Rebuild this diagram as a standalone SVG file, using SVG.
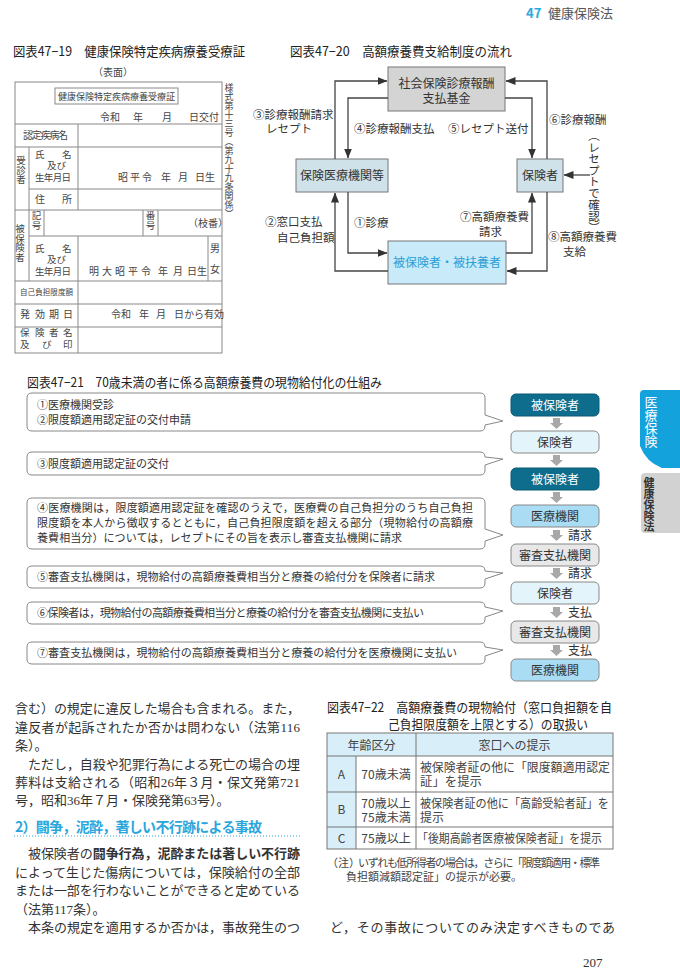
<svg xmlns="http://www.w3.org/2000/svg" width="680" height="977" viewBox="0 0 680 977">
<style>
text{font-family:"Noto Sans CJK JP","Liberation Sans",sans-serif;fill:#333}
.f{font-size:10px;fill:#444}
.fm{font-size:9.5px;fill:#444}
.fs{font-size:9px;fill:#444}
.v{writing-mode:vertical-rl}
.ttl{font-size:13px;fill:#222}
.lb{font-size:11.5px;fill:#333}
.bx{font-size:12px;fill:#333}
.c{font-size:11px;fill:#333}
.body{font-family:"Liberation Serif","Noto Sans CJK JP",serif;font-size:13px;fill:#333}
.tb{font-size:12px;fill:#444}
.grid{stroke:#888;stroke-width:1;fill:none}
.con{stroke:#444;stroke-width:1.3;fill:none}
.call{fill:#fff;stroke:#888;stroke-width:1}
.garr{fill:#a8a8a8}
</style>
<defs>
<marker id="ah" markerWidth="10" markerHeight="8" refX="9.5" refY="4" orient="auto" markerUnits="userSpaceOnUse"><path d="M0,0 L10,4 L0,8 Z" fill="#333"/></marker>
</defs>
<rect width="680" height="977" fill="#fff"/>

<!-- header -->
<g id="header">
<text x="526" y="18" style="font-size:13px;fill:#29a8e0;font-weight:bold">47</text>
<text x="548" y="18" style="font-size:13px;fill:#555">健康保険法</text>
</g>

<!-- Fig 47-19 -->
<g id="fig19">
<text class="ttl" x="13" y="56" textLength="232" lengthAdjust="spacingAndGlyphs">図表47−19　健康保険特定疾病療養受療証</text>
<text class="f" x="113" y="76" text-anchor="middle">（表面）</text>
<g class="grid">
<rect x="15" y="82" width="207" height="271"/>
<path d="M15,124H222M15,147H222M29,189H222M15,210H222M29,236H222M15,281H222M15,304H222M15,327H222"/>
<path d="M29,147V281M78,124V210M78,236V353M44,210V236M143,210V236M158,210V236M208,236V281"/>
<rect x="55" y="88" width="123" height="16"/>
</g>
<text class="fs" x="116.5" y="100" text-anchor="middle">健康保険特定疾病療養受療証</text>
<text class="f" x="100" y="121">令和</text>
<text class="f" x="133" y="121">年</text>
<text class="f" x="162" y="121">月</text>
<text class="f" x="189" y="121">日交付</text>
<text class="f" x="23" y="139" textLength="45">認定疾病名</text>
<text class="fm v" x="21" y="156">受診者</text>
<text class="fm" x="35" y="158">氏</text><text class="fm" x="62" y="158">名</text>
<text class="fm" x="47" y="169">及び</text>
<text class="fm" x="35" y="181" textLength="36">生年月日</text>
<text class="f" x="118" y="181">昭</text><text class="f" x="130" y="181">平</text><text class="f" x="142" y="181">令</text>
<text class="f" x="161" y="181">年</text><text class="f" x="178" y="181">月</text><text class="f" x="195" y="181">日生</text>
<text class="f" x="35" y="203">住</text><text class="f" x="62" y="203">所</text>
<text class="fm v" x="20" y="224">被保険者</text>
<text class="fm v" x="36.5" y="211">記号</text>
<text class="fm v" x="150.5" y="211">番号</text>
<text class="f" x="188" y="227">（枝番）</text>
<text class="fm" x="35" y="252">氏</text><text class="fm" x="62" y="252">名</text>
<text class="fm" x="47" y="263">及び</text>
<text class="fm" x="35" y="275" textLength="36">生年月日</text>
<text class="f" x="89" y="275">明</text><text class="f" x="102" y="275">大</text><text class="f" x="115" y="275">昭</text><text class="f" x="128" y="275">平</text><text class="f" x="141" y="275">令</text>
<text class="f" x="158" y="275">年</text><text class="f" x="173" y="275">月</text><text class="f" x="187" y="275">日生</text>
<text class="f" x="210" y="252">男</text><text class="f" x="210" y="273">女</text>
<text x="20" y="295" style="font-size:7.5px;fill:#444" textLength="53">自己負担限度額</text>
<text class="f" x="20" y="318">発</text><text class="f" x="35" y="318">効</text><text class="f" x="49" y="318">期</text><text class="f" x="63" y="318">日</text>
<text class="f" x="111" y="318">令和</text><text class="f" x="139" y="318">年</text><text class="f" x="156" y="318">月</text><text class="f" x="174" y="318">日から有効</text>
<text class="fm" x="20" y="336">保</text><text class="fm" x="35" y="336">険</text><text class="fm" x="49" y="336">者</text><text class="fm" x="63" y="336">名</text>
<text class="fm" x="20" y="348">及</text><text class="fm" x="42" y="348">び</text><text class="fm" x="63" y="348">印</text>
<text class="fs v" x="229" y="83">様式第十三号（第九十九条関係）</text>
</g>

<!-- Fig 47-20 -->
<text class="ttl" x="290" y="56" textLength="222" lengthAdjust="spacingAndGlyphs">図表47−20　高額療養費支給制度の流れ</text>
<g id="n-kikin">
<rect x="388" y="67" width="117" height="44" fill="#d4d4d4" stroke="#777"/>
<text class="bx" x="446.5" y="88" text-anchor="middle">社会保険診療報酬</text>
<text class="bx" x="446.5" y="103" text-anchor="middle">支払基金</text>
</g>
<g id="n-iryo">
<rect x="296" y="159" width="92" height="33" fill="#cfe1e9" stroke="#777"/>
<text class="bx" x="342" y="180" text-anchor="middle">保険医療機関等</text>
</g>
<g id="n-hokensha">
<rect x="517" y="159" width="46" height="33" fill="#cfe1e9" stroke="#777"/>
<text class="bx" x="540" y="180" text-anchor="middle">保険者</text>
</g>
<g id="n-hihokensha">
<rect x="388" y="241" width="118" height="43" fill="#c9eaf9" stroke="#777"/>
<text x="447" y="267" text-anchor="middle" style="font-size:12px;fill:#2a9fd6">被保険者・被扶養者</text>
</g>
<g id="connectors20">
<path class="con" d="M335,159V81H387" marker-end="url(#ah)"/>
<path class="con" d="M388,98H348V158" marker-end="url(#ah)"/>
<path class="con" d="M505,98H532V158" marker-end="url(#ah)"/>
<path class="con" d="M547,159V81H506" marker-end="url(#ah)"/>
<path class="con" d="M348,192V253H387" marker-end="url(#ah)"/>
<path class="con" d="M388,271H335V193" marker-end="url(#ah)"/>
<path class="con" d="M506,253H532V193" marker-end="url(#ah)"/>
<path class="con" d="M547,192V271H507" marker-end="url(#ah)"/>
<path class="con" d="M590,175H564" marker-end="url(#ah)"/>
</g>
<g id="labels20">
<text class="lb" x="253" y="119">③診療報酬請求</text>
<text class="lb" x="266" y="133">レセプト</text>
<text class="lb" x="354" y="133">④診療報酬支払</text>
<text class="lb" x="448" y="133">⑤レセプト送付</text>
<text class="lb" x="549" y="124">⑥診療報酬</text>
<text class="lb v" x="594" y="130">（レセプトで確認）</text>
<text class="lb" x="354" y="227">①診療</text>
<text class="lb" x="265" y="226">②窓口支払</text>
<text class="lb" x="277" y="242">自己負担額</text>
<text class="lb" x="460" y="221">⑦高額療養費</text>
<text class="lb" x="479" y="236">請求</text>
<text class="lb" x="548" y="241">⑧高額療養費</text>
<text class="lb" x="563" y="256">支給</text>
</g>

<!-- Fig 47-21 -->
<text class="ttl" x="27" y="387" textLength="355" lengthAdjust="spacingAndGlyphs">図表47−21　70歳未満の者に係る高額療養費の現物給付化の仕組み</text>
<g id="callouts">
<path class="call" d="M32,393H480Q485,393 485,398V415L503,421L485,425V426Q485,431 480,431H32Q27,431 27,426V398Q27,393 32,393Z"/>
<text class="c" x="37" y="409">①医療機関受診</text>
<text class="c" x="37" y="424">②限度額適用認定証の交付申請</text>
<path class="call" d="M32,452H480Q485,452 485,457L503,459L485,465V470Q485,475 480,475H32Q27,475 27,470V457Q27,452 32,452Z"/>
<text class="c" x="37" y="468">③限度額適用認定証の交付</text>
<path class="call" d="M32,498H480Q485,498 485,503V529L503,535L485,541V544Q485,549 480,549H32Q27,549 27,544V503Q27,498 32,498Z"/>
<text class="c" x="37" y="512" textLength="436">④医療機関は，限度額適用認定証を確認のうえで，医療費の自己負担分のうち自己負担</text>
<text class="c" x="37" y="527" textLength="436">限度額を本人から徴収するとともに，自己負担限度額を超える部分（現物給付の高額療</text>
<text class="c" x="37" y="542" textLength="365">養費相当分）については，レセプトにその旨を表示し審査支払機関に請求</text>
<path class="call" d="M32,566H480Q485,566 485,571L503,573L485,579V583Q485,588 480,588H32Q27,588 27,583V571Q27,566 32,566Z"/>
<text class="c" x="37" y="581" textLength="398">⑤審査支払機関は，現物給付の高額療養費相当分と療養の給付分を保険者に請求</text>
<path class="call" d="M32,602H480Q485,602 485,607L503,611L485,617V619Q485,624 480,624H32Q27,624 27,619V607Q27,602 32,602Z"/>
<text class="c" x="37" y="617" textLength="387">⑥保険者は，現物給付の高額療養費相当分と療養の給付分を審査支払機関に支払い</text>
<path class="call" d="M32,642H480Q485,642 485,647L503,650L485,656V659Q485,664 480,664H32Q27,664 27,659V647Q27,642 32,642Z"/>
<text class="c" x="37" y="657" textLength="420">⑦審査支払機関は，現物給付の高額療養費相当分と療養の給付分を医療機関に支払い</text>
</g>
<g id="flow21">
<g id="f1"><rect x="511" y="394" width="88" height="22" rx="5" fill="#0e6d8d" stroke="#0a5a75"/><text x="555" y="409.5" text-anchor="middle" style="font-size:12px;fill:#fff">被保険者</text></g>
<g id="f2"><rect x="511" y="431" width="88" height="22" rx="5" fill="#e4f4fb" stroke="#888"/><text class="bx" x="555" y="446.5" text-anchor="middle">保険者</text></g>
<g id="f3"><rect x="511" y="468" width="88" height="22" rx="5" fill="#0e6d8d" stroke="#0a5a75"/><text x="555" y="483.5" text-anchor="middle" style="font-size:12px;fill:#fff">被保険者</text></g>
<g id="f4"><rect x="511" y="505" width="88" height="22" rx="5" fill="#aadcf3" stroke="#888"/><text class="bx" x="555" y="520.5" text-anchor="middle">医療機関</text></g>
<g id="f5"><rect x="511" y="544" width="88" height="22" rx="5" fill="#e8e8e8" stroke="#888"/><text class="bx" x="555" y="559.5" text-anchor="middle">審査支払機関</text></g>
<g id="f6"><rect x="511" y="582" width="88" height="22" rx="5" fill="#e4f4fb" stroke="#888"/><text class="bx" x="555" y="597.5" text-anchor="middle">保険者</text></g>
<g id="f7"><rect x="511" y="621" width="88" height="22" rx="5" fill="#e8e8e8" stroke="#888"/><text class="bx" x="555" y="636.5" text-anchor="middle">審査支払機関</text></g>
<g id="f8"><rect x="511" y="659" width="88" height="22" rx="5" fill="#aadcf3" stroke="#888"/><text class="bx" x="555" y="674.5" text-anchor="middle">医療機関</text></g>
</g>
<g id="arrows21">
<path class="garr" d="M553,418H560V423H563L556.5,429L550,423H553Z"/>
<path class="garr" d="M553,455H560V460H563L556.5,466L550,460H553Z"/>
<path class="garr" d="M553,492H560V497H563L556.5,503L550,497H553Z"/>
<path class="garr" d="M553,530H560V535H563L556.5,541L550,535H553Z"/>
<path class="garr" d="M553,568H560V573H563L556.5,579L550,573H553Z"/>
<path class="garr" d="M553,607H560V612H563L556.5,618L550,612H553Z"/>
<path class="garr" d="M553,645H560V650H563L556.5,656L550,650H553Z"/>
<text class="bx" x="568" y="540">請求</text>
<text class="bx" x="568" y="578">請求</text>
<text class="bx" x="568" y="617">支払</text>
<text class="bx" x="568" y="655">支払</text>
</g>

<!-- side tabs -->
<g id="tab1">
<path d="M644,390H680V468H662Q646,462 640,446V394Q640,390 644,390Z" fill="#14a2dd"/>
<text class="v" x="651" y="396" style="font-size:13px;fill:#fff">医療保険</text>
</g>
<g id="tab2">
<path d="M645,473H680V533H645Q641,533 641,529V477Q641,473 645,473Z" fill="#d2d2d2"/>
<text class="v" x="649" y="477" style="font-size:11px;fill:#333;font-weight:bold">健康保険法</text>
</g>

<!-- body text -->
<g id="body">
<text class="body" x="15" y="713" textLength="285">含む）の規定に違反した場合も含まれる。また，</text>
<text class="body" x="15" y="731.5" textLength="285">違反者が起訴されたか否かは問わない（法第116</text>
<text class="body" x="15" y="750">条）。</text>
<text class="body" x="15" y="768.5" textLength="285">　ただし，自殺や犯罪行為による死亡の場合の埋</text>
<text class="body" x="15" y="787" textLength="285">葬料は支給される（昭和26年３月・保文発第721</text>
<text class="body" x="15" y="805">号，昭和36年７月・保険発第63号）。</text>
<text x="15" y="832" textLength="247" style="font-size:14px;font-weight:bold;fill:#2aa6dd">2）闘争，泥酔，著しい不行跡による事故</text>
<path d="M14,836H300" stroke="#2aa6dd" stroke-width="1" stroke-dasharray="1,2"/>
<text class="body" x="15" y="858" textLength="285">　被保険者の<tspan font-weight="bold">闘争行為，泥酔または著しい不行跡</tspan></text>
<text class="body" x="15" y="876.5" textLength="285">によって生じた傷病については，保険給付の全部</text>
<text class="body" x="15" y="895" textLength="285">または一部を行わないことができると定めている</text>
<text class="body" x="15" y="913.5">（法第117条）。</text>
<text class="body" x="15" y="932" textLength="285">　本条の規定を適用するか否かは，事故発生のつ</text>
<text class="body" x="330" y="932" textLength="285">ど，その事故についてのみ決定すべきものであ</text>
<text class="body" x="583" y="967">207</text>
</g>

<!-- Fig 47-22 -->
<g id="fig22">
<text class="ttl" x="327" y="712" textLength="285" lengthAdjust="spacingAndGlyphs">図表47−22　高額療養費の現物給付（窓口負担額を自</text>
<text class="ttl" x="388" y="729" textLength="200" lengthAdjust="spacingAndGlyphs">己負担限度額を上限とする）の取扱い</text>
<rect x="327" y="733" width="286" height="23" fill="#d8eef8"/>
<rect x="327" y="756" width="29" height="93" fill="#d8eef8"/>
<g class="grid" style="stroke:#777">
<rect x="327" y="733" width="286" height="116"/>
<path d="M327,756H613M327,792H613M327,827H613M356,756V849M416,733V849"/>
</g>
<text class="tb" x="371.5" y="749.5" text-anchor="middle">年齢区分</text>
<text class="tb" x="514.5" y="749.5" text-anchor="middle">窓口への提示</text>
<text class="tb" x="341.5" y="778.5" text-anchor="middle">A</text>
<text class="tb" x="386" y="778.5" text-anchor="middle">70歳未満</text>
<text class="tb" x="420" y="771.5" textLength="190" lengthAdjust="spacingAndGlyphs">被保険者証の他に「限度額適用認定</text>
<text class="tb" x="420" y="785.5" textLength="62" lengthAdjust="spacingAndGlyphs">証」を提示</text>
<text class="tb" x="341.5" y="814" text-anchor="middle">B</text>
<text class="tb" x="386" y="807.5" text-anchor="middle">70歳以上</text>
<text class="tb" x="386" y="821.5" text-anchor="middle">75歳未満</text>
<text class="tb" x="420" y="807.5" textLength="189" lengthAdjust="spacingAndGlyphs">被保険者証の他に「高齢受給者証」を</text>
<text class="tb" x="420" y="821.5">提示</text>
<text class="tb" x="417" y="842.5" textLength="185" lengthAdjust="spacingAndGlyphs">「後期高齢者医療被保険者証」を提示</text>
<text class="tb" x="341.5" y="842.5" text-anchor="middle">C</text>
<text class="tb" x="386" y="842.5" text-anchor="middle">75歳以上</text>
<text x="327" y="867" style="font-size:11px;fill:#444">（注）</text>
<text x="358" y="867" textLength="242" style="font-size:11px;fill:#444">いずれも低所得者の場合は，さらに「限度額適用・標準</text>
<text x="346" y="881" style="font-size:11px;fill:#444">負担額減額認定証」の提示が必要。</text>
</g>
</svg>
